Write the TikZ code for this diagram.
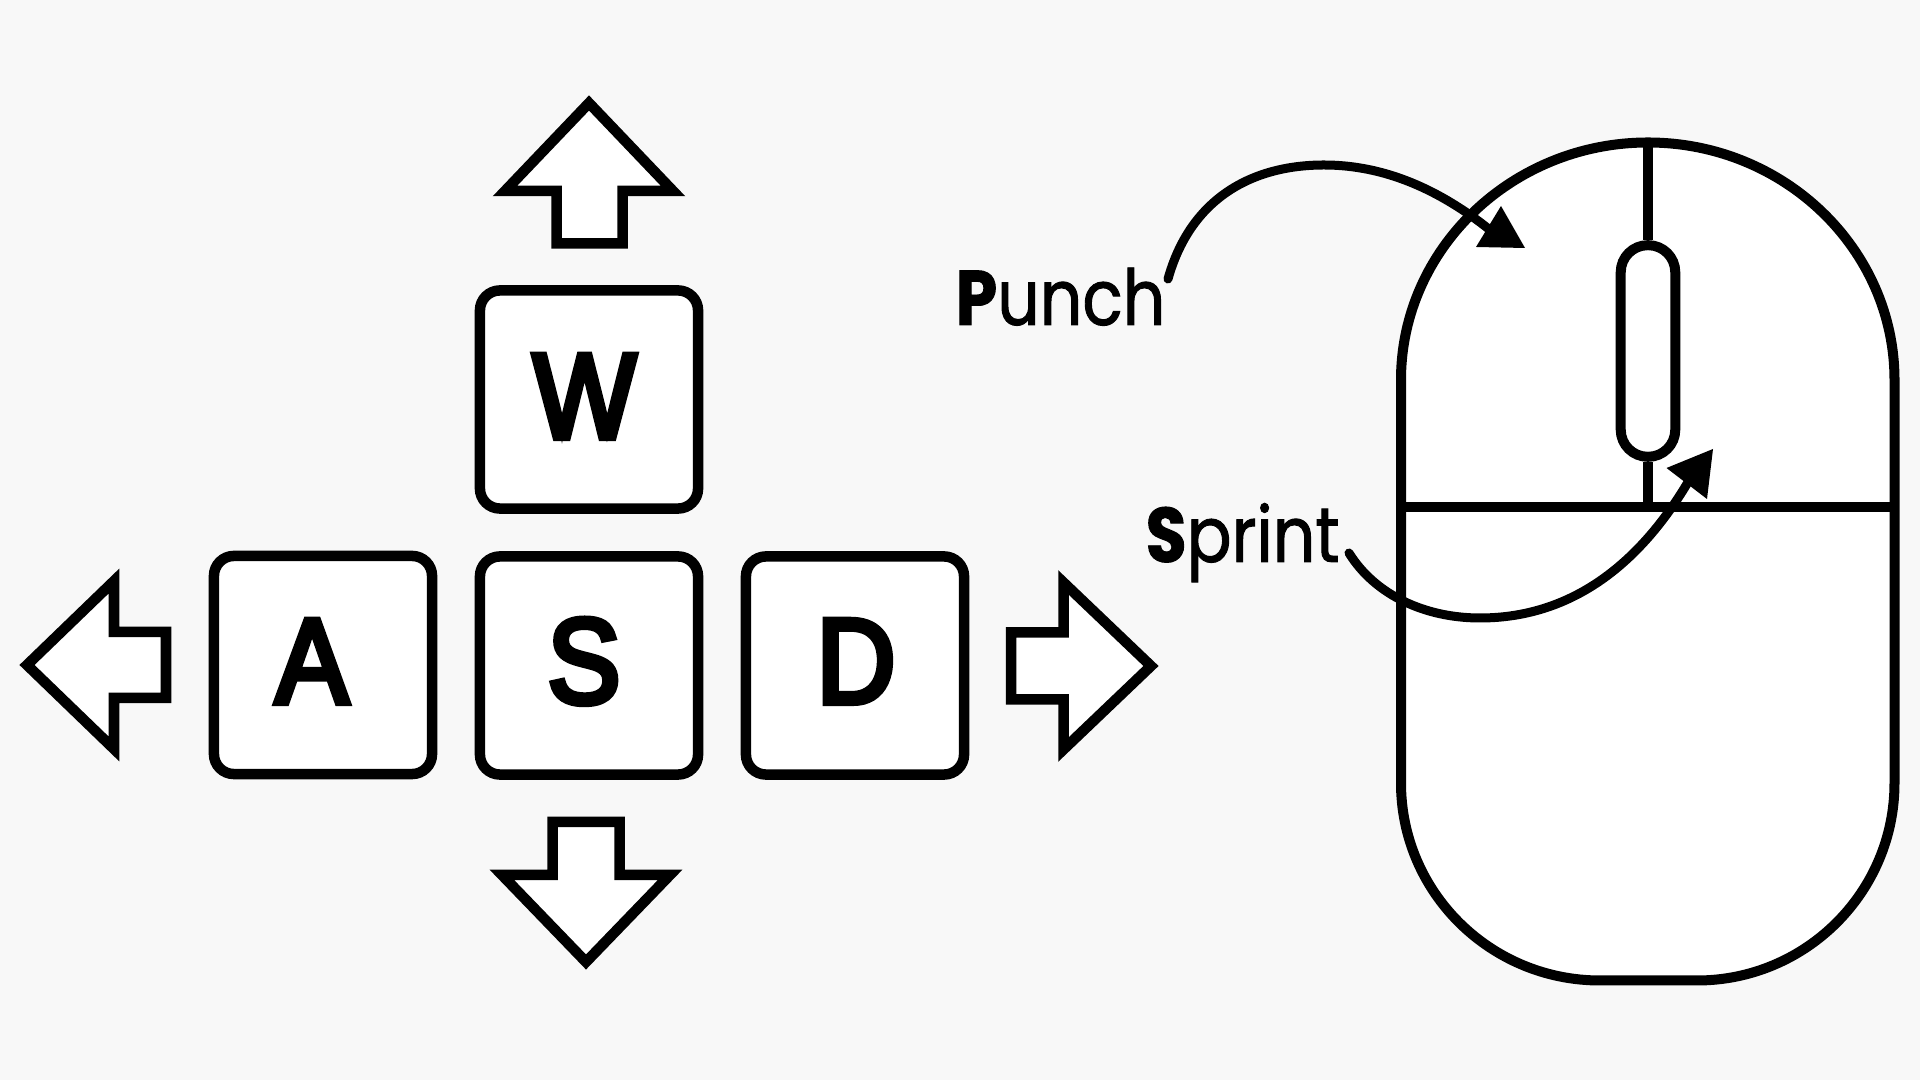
\documentclass[tikz,border=0pt]{standalone}
\usepackage{fontspec}
\newfontfamily\keyfont[FakeBold=5,FakeStretch=0.9]{Liberation Sans}
\newfontfamily\labelfont[FakeStretch=0.86,FakeBold=1.2]{Poppins}
\definecolor{pagegray}{HTML}{F8F8F8}
\tikzset{
    keybox/.style={draw, fill=white, line width=0.105cm, rounded corners=0.2cm, minimum size=2.18cm, inner sep=0pt},
    keyletter/.style={anchor=base, inner sep=0pt, font=\keyfont\fontsize{34.4}{36}\selectfont},
    padarrow/.style={draw, fill=white, line width=0.105cm},
    mouseline/.style={line width=0.1cm},
    calloutline/.style={line width=0.09cm, line cap=round},
    calloutlabel/.style={anchor=base west, inner sep=0pt, font=\labelfont\fontsize{22}{24}\selectfont}
}
\begin{document}
\begin{tikzpicture}[x=0.01cm, y=-0.01cm]
    % background
    \fill[pagegray] (0,0) rectangle (1920,1080);
    \useasboundingbox (0,0) rectangle (1920,1080);

    % ===== keys =====
    \foreach \name/\cx/\cy/\tx/\ty in {W/589/399.5/584.5/438, A/323/665/312/703, S/589/665.5/584/703, D/855/665.5/856/703} {
        \node[keybox] (key\name) at (\cx,\cy) {};
        \node[keyletter] (letter\name) at (\tx,\ty) {\name};
    }

    % ===== direction arrows =====
    \draw[padarrow] (589,103) -- (673,191) -- (622.5,191) -- (622.5,243.5) -- (556.5,243.5) -- (556.5,191) -- (505,191) -- cycle;
    \draw[padarrow] (27,665) -- (114,581) -- (114,632) -- (166,632) -- (166,698) -- (114,698) -- (114,749) -- cycle;
    \draw[padarrow] (1151,666) -- (1063.5,582.5) -- (1063.5,632.5) -- (1011,632.5) -- (1011,699.5) -- (1063.5,699.5) -- (1063.5,749.5) -- cycle;
    \draw[padarrow] (586,962) -- (670,875) -- (619.5,875) -- (619.5,822) -- (552.5,822) -- (552.5,875) -- (502,875) -- cycle;

    % ===== mouse =====
    \draw[mouseline, fill=white] (1401,380) .. controls (1401,249) and (1512,142.5) .. (1648,142.5)
        .. controls (1784,142.5) and (1894.5,249) .. (1894.5,380) -- (1894.5,783)
        .. controls (1894.5,892) and (1806,980.5) .. (1697,980.5) -- (1600,980.5)
        .. controls (1490,980.5) and (1401,892) .. (1401,783) -- cycle;
    \draw[mouseline] (1401,507) -- (1894.5,507);
    \node[draw, fill=white, line width=0.1cm, rounded corners=0.27cm, minimum width=0.545cm, minimum height=2.115cm, inner sep=0pt] (wheel) at (1648,351) {};
    \draw[mouseline] (1648,142.5) -- (wheel.north);
    \draw[mouseline] (wheel.south) -- (1648,507);

    % ===== callouts =====
    \node[calloutlabel] (punchlabel) at (955,325) {{\fontseries{b}\selectfont P}unch};
    \node[calloutlabel] (sprintlabel) at (1145,562) {{\fontseries{b}\selectfont S}print};

    \coordinate (punchstart) at (1168,279);
    \coordinate (punchend) at (1490,230);
    \draw[calloutline] (punchstart) .. controls (1190,200) and (1250,165) .. (1324,165) .. controls (1385,165) and (1440,190) .. (punchend);
    \fill (1501,206) -- (1525,248) -- (1476,247) -- cycle;

    \coordinate (sprintstart) at (1349,553);
    \coordinate (sprintend) at (1695,470);
    \draw[calloutline] (sprintstart) .. controls (1375,595) and (1425,618) .. (1480,618) .. controls (1575,618) and (1645,560) .. (sprintend);
    \fill (1713,449) -- (1707,499) -- (1666.5,468) -- cycle;
\end{tikzpicture}
\end{document}
